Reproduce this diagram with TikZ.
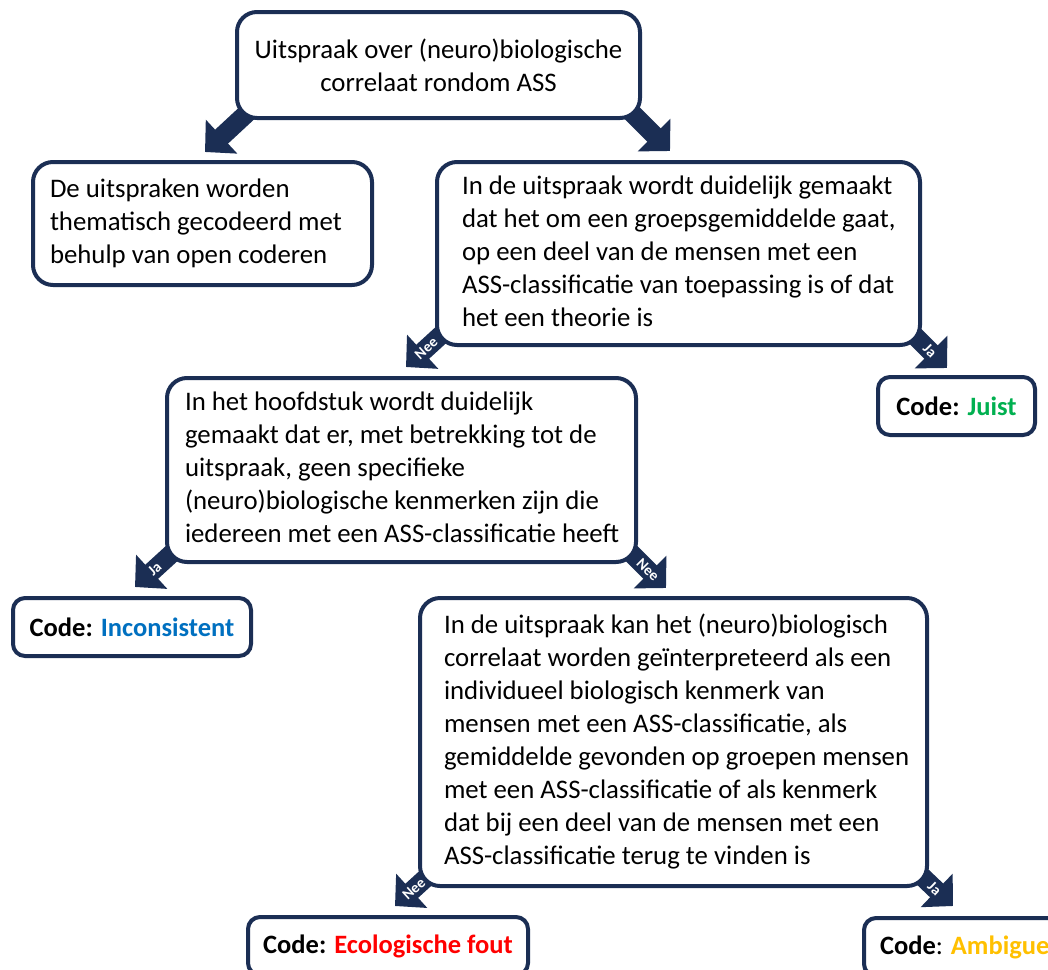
\documentclass[tikz,border=0pt]{standalone}
\usepackage{fontspec}
\setmainfont{Carlito}
\usetikzlibrary{arrows.meta,calc,backgrounds}
\definecolor{navy}{RGB}{27,46,84}
\definecolor{cgreen}{RGB}{0,176,80}
\definecolor{cblue}{RGB}{0,112,192}
\definecolor{cred}{RGB}{255,0,0}
\definecolor{camber}{RGB}{255,192,0}
\newcommand{\ltab}[1]{{\spaceskip=0pt\xspaceskip=0pt\begin{tabular}{@{}l@{}}#1\end{tabular}}}
\tikzset{
  box/.style={draw=navy, line width=4pt, rounded corners=20pt, fill=white, inner sep=0pt,
    font=\fontsize{26.8}{33}\selectfont},
  codebox/.style={draw=navy, line width=4pt, rounded corners=12pt, fill=white, inner sep=0pt,
    font=\bfseries\fontsize{26.5}{33}\selectfont},
  arr/.style={draw=navy, line width=19pt, -{Triangle[width=45pt,length=22.6pt]}},
  lbl/.style={text=white, font=\bfseries\fontsize{15}{15}\selectfont, inner sep=0pt, sloped, pos=0.57},
}
\begin{document}
\begin{tikzpicture}[x=1pt,y=-1pt]
\useasboundingbox (0,0) rectangle (1048,969);
\node[box, minimum width=403pt, minimum height=106pt, align=center] (top) at (438.5,65)
  {Uitspraak over (neuro)biologische\\correlaat rondom ASS};
\node[box, minimum width=339pt, minimum height=123pt, text width=305pt, align=left] (left) at (202.5,223.5)
  {\ltab{De uitspraken worden\\thematisch gecodeerd met\\behulp van open coderen}};
\node[box, minimum width=483pt, minimum height=183pt, text width=433pt, align=left] (right) at (678.5,253.5)
  {\ltab{In de uitspraak wordt duidelijk gemaakt\\dat het om een groepsgemiddelde gaat,\\op een deel van de mensen met een\\ASS-classificatie van toepassing is of dat\\het een theorie is}};
\node[codebox, minimum width=157pt, minimum height=58pt] (juist) at (956.5,406)
  {Code: \textcolor{cgreen}{Juist}};
\node[box, minimum width=469pt, minimum height=184pt, text width=433pt, align=left] (mid) at (401.5,470)
  {\ltab{In het hoofdstuk wordt duidelijk\\gemaakt dat er, met betrekking tot de\\uitspraak, geen specifieke\\(neuro)biologische kenmerken zijn die\\iedereen met een ASS-classificatie heeft}};
\node[codebox, minimum width=238pt, minimum height=58pt] (incons) at (132,627)
  {Code: \textcolor{cblue}{Inconsistent}};
\node[box, minimum width=507pt, minimum height=288pt, text width=459pt, align=left] (large) at (673.5,742)
  {\ltab{In de uitspraak kan het (neuro)biologisch\\correlaat worden geïnterpreteerd als een\\individueel biologisch kenmerk van\\mensen met een ASS-classificatie, als\\gemiddelde gevonden op groepen mensen\\met een ASS-classificatie of als kenmerk\\dat bij een deel van de mensen met een\\ASS-classificatie terug te vinden is}};
\node[codebox, minimum width=280pt, minimum height=58pt] (eco) at (388,946)
  {Code: \textcolor{cred}{Ecologische fout}};
\node[codebox, anchor=west, minimum height=58pt, inner xsep=16pt,
  font=\fontsize{26.5}{33}\selectfont] (amb) at (862,947)
  {\textbf{Code}: \textbf{\textcolor{camber}{Ambigue}}};
\begin{pgfonlayer}{background}
\draw[arr] ($(top.south west)+(25,-19)$) -- ($(left.north west)+(174,-8)$);
\draw[arr] ($(top.south east)+(-23,-20)$) -- ($(right.north west)+(235,-9)$);
\draw[arr] ($(right.south west)+(18,-23)$) -- ($(mid.north west)+(241,-9)$) node[lbl] {Nee};
\draw[arr] ($(right.south east)+(-15,-19)$) -- ($(juist.north west)+(71,-7)$) node[lbl] {Ja};
\draw[arr] ($(mid.south west)+(16,-19)$) -- ($(incons.north west)+(124,-9)$) node[lbl] {Ja};
\draw[arr] ($(mid.south east)+(-14,-18)$) -- ($(large.north west)+(248,-8)$) node[lbl] {Nee};
\draw[arr] ($(large.south west)+(21,-22)$) -- ($(eco.north west)+(149,-9)$) node[lbl] {Nee};
\draw[arr] ($(large.south east)+(-19,-23)$) -- ($(amb.north west)+(91,-10)$) node[lbl] {Ja};
\end{pgfonlayer}
\end{tikzpicture}
\end{document}
